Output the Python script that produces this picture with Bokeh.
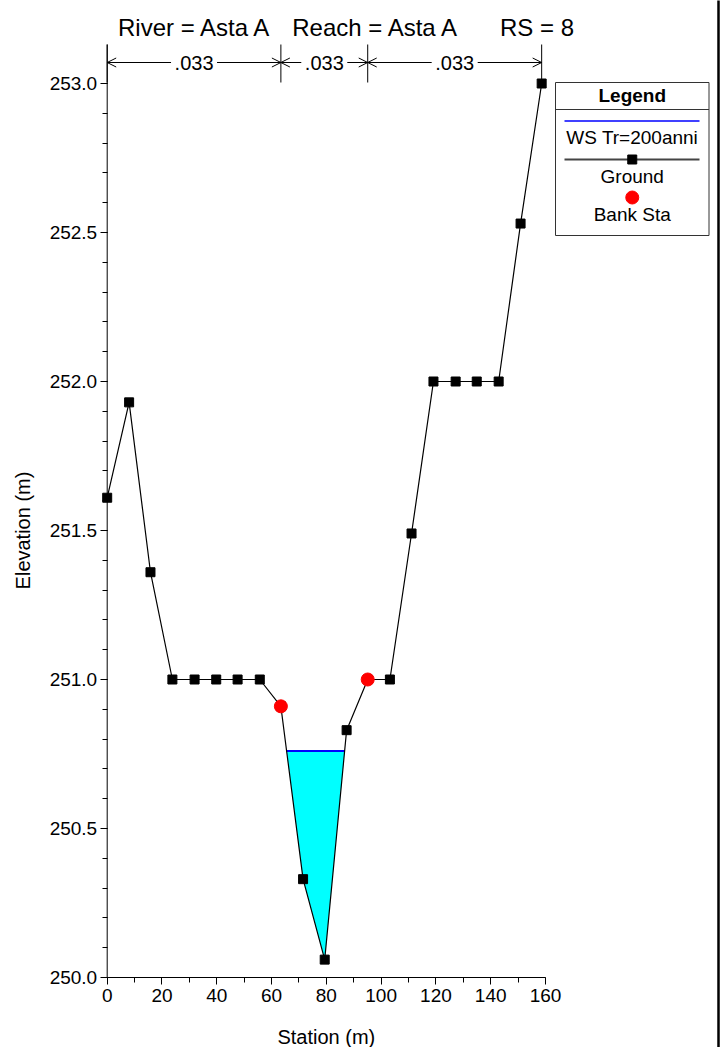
import math
from bokeh.plotting import figure
from bokeh.models import Range1d, FixedTicker, PrintfTickFormatter, Arrow, OpenHead
from bokeh.core.properties import value
from bokeh.embed import file_html
from bokeh.resources import INLINE

# ---------------- data ----------------
station = [0.0, 8.0, 15.8, 23.8, 31.9, 39.8, 47.6, 55.7, 63.4, 71.5, 79.4,
           87.4, 95.1, 103.2, 111.1, 119.1, 127.2, 134.9, 142.9, 150.9, 158.6]
elevation = [251.61, 251.93, 251.36, 251.00, 251.00, 251.00, 251.00, 251.00,
             250.91, 250.33, 250.06, 250.83, 251.00, 251.00, 251.49, 252.00,
             252.00, 252.00, 252.00, 252.53, 253.00]
bank_sta = [63.4, 95.1]
ws_elev = 250.76
ws_name = "WS Tr=200anni"
n_values = [0.033, 0.033, 0.033]
title_parts = ["River = Asta A", "Reach = Asta A", "RS = 8"]
x_label = "Station (m)"
y_label = "Elevation (m)"
x_ticks = [0, 20, 40, 60, 80, 100, 120, 140, 160]
x_minor = [0, 10, 20, 30, 40, 50, 60, 70, 80, 90, 100, 110, 120, 130, 140, 150, 160]
y_ticks = [250.0, 250.5, 251.0, 251.5, 252.0, 252.5, 253.0]
y_minor = [round(250.0 + 0.1 * i, 1) for i in range(31)]

# ---------------- geometry (canvas pixels -> data) ----------------
FONT = "Liberation Sans"
W, H = 722, 1047
PX0, PX160 = 106.7, 545.0           # canvas x of station 0 / 160
SX = (PX160 - PX0) / 160.0
PY250, SY = 977.0, 298.0            # canvas y of elevation 250, px per metre


def dx(px):
    return (px - PX0) / SX


def dy(py):
    return 250.0 + (PY250 - py) / SY


p = figure(width=W, height=H, output_backend="svg", toolbar_location=None,
           title=None,
           x_range=Range1d(dx(0), dx(W)),
           y_range=Range1d(dy(H), dy(0)),
           min_border_left=0, min_border_right=0,
           min_border_top=0, min_border_bottom=0)
p.outline_line_color = None
p.grid.visible = False
p.background_fill_color = "white"
p.border_fill_color = "white"

for ax in (p.xaxis[0], p.yaxis[0]):
    ax.axis_line_color = None
    ax.major_tick_in = 0
    ax.major_tick_out = 7
    ax.minor_tick_in = 0
    ax.minor_tick_out = 5
    ax.major_tick_line_color = "black"
    ax.minor_tick_line_color = "black"
    ax.major_label_text_font = FONT
    ax.major_label_text_font_size = "19px"
    ax.major_label_text_color = "black"
p.xaxis.ticker = FixedTicker(ticks=x_ticks, minor_ticks=x_minor)
p.yaxis.ticker = FixedTicker(ticks=y_ticks, minor_ticks=y_minor)
p.yaxis.formatter = PrintfTickFormatter(format="%.1f")
p.yaxis.fixed_location = x_ticks[0]
p.xaxis.fixed_location = y_ticks[0]
p.xaxis.major_label_standoff = 4
p.yaxis.major_label_standoff = 3

# axis lines
p.segment(x0=[x_ticks[0]], y0=[y_ticks[0]], x1=[x_ticks[-1]], y1=[y_ticks[0]],
          line_color="black", line_width=1)
p.segment(x0=[x_ticks[0]], y0=[y_ticks[0]], x1=[x_ticks[0]], y1=[dy(44)],
          line_color="black", line_width=1)

# ---------------- water ----------------
def crossings(xs, ys, level):
    out = []
    for i in range(len(xs) - 1):
        y0, y1 = ys[i], ys[i + 1]
        if (y0 - level) * (y1 - level) < 0:
            t = (level - y0) / (y1 - y0)
            out.append((i, xs[i] + t * (xs[i + 1] - xs[i])))
    return out

cr = crossings(station, elevation, ws_elev)
(i_l, x_l), (i_r, x_r) = cr[0], cr[-1]
wx = [x_l] + station[i_l + 1:i_r + 1] + [x_r]
wy = [ws_elev] + elevation[i_l + 1:i_r + 1] + [ws_elev]
p.patch(wx, wy, fill_color="#00FFFF", line_color=None)
p.line([x_l, x_r], [ws_elev, ws_elev], line_color="#0000FF", line_width=2)

# ---------------- ground ----------------
p.line(station, elevation, line_color="black", line_width=1.2)
p.scatter(station, elevation, marker="square", size=9, fill_color="black", line_color="black")
bank_elev = [elevation[station.index(b)] for b in bank_sta]
p.scatter(bank_sta, bank_elev, marker="circle", size=13, fill_color="#FF0000", line_color="#FF0000")

# ---------------- title ----------------
title_px = [194.5, 375.5, 536.5]
p.text(x=[dx(v) for v in title_px], y=[dy(27)] * 3, text=title_parts,
       text_font=value(FONT), text_font_size="24px", text_align="center",
       text_baseline="middle", text_color="black")

# ---------------- Manning n annotation ----------------
bounds = [station[0], bank_sta[0], bank_sta[1], station[-1]]
p.segment(x0=bounds, y0=[dy(82)] * 4, x1=bounds, y1=[dy(44)] * 4,
          line_color="black", line_width=1)
ya = dy(62)
gap = 23.0 / SX
txt_x = []
for k in range(3):
    a, b = bounds[k], bounds[k + 1]
    m = (a + b) / 2
    txt_x.append(m)
    p.add_layout(Arrow(x_start=m - gap, y_start=ya, x_end=a, y_end=ya, start=None,
                       end=OpenHead(size=9, line_width=1, line_color="black"),
                       line_color="black", line_width=1))
    p.add_layout(Arrow(x_start=m + gap, y_start=ya, x_end=b, y_end=ya, start=None,
                       end=OpenHead(size=9, line_width=1, line_color="black"),
                       line_color="black", line_width=1))
p.text(x=txt_x, y=[ya] * 3, text=[("%.3f" % v)[1:] for v in n_values],
       text_font=value(FONT), text_font_size="20px", text_align="center",
       text_baseline="middle", text_color="black")

# ---------------- legend ----------------
lx0, lx1 = dx(555), dx(708.5)
lcx = (lx0 + lx1) / 2
p.quad(left=[lx0], right=[lx1], top=[dy(82)], bottom=[dy(235)],
       fill_color="white", line_color="#333333", line_width=1)
p.segment(x0=[lx0], y0=[dy(109)], x1=[lx1], y1=[dy(109)], line_color="#333333", line_width=1)
p.text(x=[lcx], y=[dy(94.5)], text=["Legend"], text_font=value(FONT), text_font_size="19px",
       text_font_style="bold", text_align="center", text_baseline="middle", text_color="black")
p.line([dx(564), dx(699)], [dy(120.5)] * 2, line_color="#0000FF", line_width=1.5)
p.line([dx(564), dx(699)], [dy(159)] * 2, line_color="#444444", line_width=2)
p.scatter([lcx], [dy(159)], marker="square", size=9, fill_color="black", line_color="black")
p.scatter([lcx], [dy(197)], marker="circle", size=13, fill_color="#FF0000", line_color="#FF0000")
p.text(x=[lcx] * 3, y=[dy(137), dy(176), dy(214)], text=[ws_name, "Ground", "Bank Sta"],
       text_font=value(FONT), text_font_size="19px", text_align="center",
       text_baseline="middle", text_color="black")

# ---------------- axis titles ----------------
p.text(x=[(x_ticks[0] + x_ticks[-1]) / 2], y=[dy(1036)], text=[x_label],
       text_font=value(FONT), text_font_size="20px", text_align="center",
       text_baseline="middle", text_color="black")
p.text(x=[dx(22.5)], y=[(y_ticks[0] + y_ticks[-1]) / 2], text=[y_label], angle=math.pi / 2,
       text_font=value(FONT), text_font_size="20px", text_align="center",
       text_baseline="middle", text_color="black")

# right border line
p.segment(x0=[dx(718)], y0=[dy(-5)], x1=[dx(718)], y1=[dy(H + 5)],
          line_color="black", line_width=2.5)

open("out.html", "w").write(file_html(p, INLINE))
